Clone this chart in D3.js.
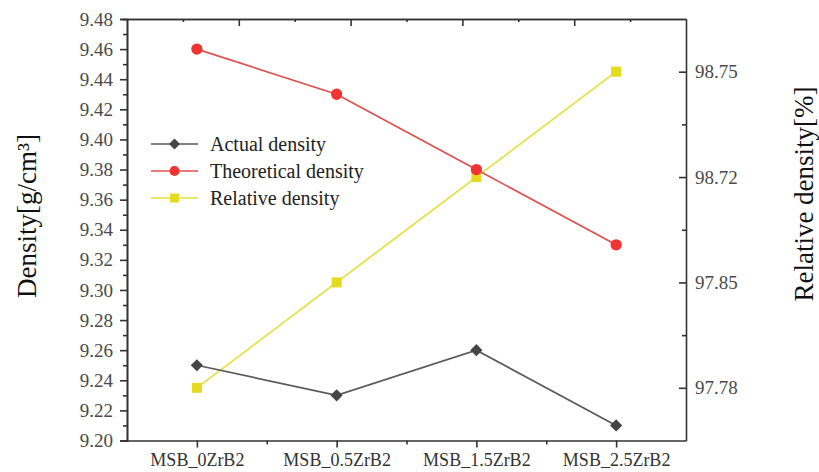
<!DOCTYPE html>
<html>
<head>
<meta charset="utf-8">
<script src="https://cdn.jsdelivr.net/npm/d3@7/dist/d3.min.js"></script>
<style>
  html, body { margin: 0; padding: 0; background: #fff; }
  svg { display: block; }
  text { font-family: "Liberation Serif", "Times New Roman", serif; }
</style>
</head>
<body>
<svg id="chart" width="819" height="472"></svg>
<script>
// Samples along the x axis
const samples = ["MSB_0ZrB2", "MSB_0.5ZrB2", "MSB_1.5ZrB2", "MSB_2.5ZrB2"];
// Densities in g/cm3 (left axis)
const actualDensity = [9.25, 9.23, 9.26, 9.21];
const theoreticalDensity = [9.46, 9.43, 9.38, 9.33];
// Relative density in % (right axis, one labelled level per sample)
const relativeDensity = ["97.78", "97.85", "98.72", "98.75"];
// Left axis tick labels
const leftTicks = [9.20, 9.22, 9.24, 9.26, 9.28, 9.30, 9.32, 9.34, 9.36, 9.38, 9.40, 9.42, 9.44, 9.46, 9.48];
const seriesNames = ["Actual density", "Theoretical density", "Relative density"];

const svg = d3.select("#chart");
const plot = { left: 127, right: 686, top: 19, bottom: 440.5 };
const frameColor = "#333";
const tickText = "#4a4a4a";

const x = d3.scalePoint().domain(samples).range([plot.left, plot.right]).padding(0.5);
const y = d3.scaleLinear().domain([9.20, 9.48]).range([plot.bottom, plot.top]);
const yR = d3.scalePoint().domain(relativeDensity).range([plot.bottom, plot.top]).padding(0.5);
const xTop = d3.scaleLinear().domain([0, 10]).range([plot.left, plot.right]);

function styleAxis(g) {
  g.selectAll("path.domain").attr("stroke", frameColor).attr("stroke-width", 1.6);
  g.selectAll(".tick line").attr("stroke", frameColor).attr("stroke-width", 1.6);
  g.selectAll(".tick text").attr("fill", tickText).style("font-size", "19px")
    .style("font-family", "'Liberation Serif', serif");
}

// Left axis: minor ticks then major ticks
const leftMinor = leftTicks.slice(0, -1).map(v => v + 0.01);
svg.append("g").attr("transform", `translate(${plot.left},0)`)
  .call(d3.axisLeft(y).tickValues(leftMinor).tickSize(4).tickFormat(""))
  .call(styleAxis);
svg.append("g").attr("transform", `translate(${plot.left},0)`)
  .call(d3.axisLeft(y).tickValues(leftTicks).tickSize(7).tickPadding(7).tickFormat(d3.format(".2f")))
  .call(styleAxis);

// Bottom axis
const step = x.step();
const bottomMinor = samples.slice(0, -1).map(s => x(s) + step / 2);
svg.append("g").attr("transform", `translate(0,${plot.bottom})`)
  .call(d3.axisBottom(d3.scaleIdentity()).tickValues(bottomMinor).tickSize(4).tickFormat(""))
  .call(g => g.select("path.domain").remove())
  .call(styleAxis);
svg.append("g").attr("transform", `translate(0,${plot.bottom})`)
  .call(d3.axisBottom(x).tickSize(7).tickPadding(6).tickSizeOuter(0))
  .call(styleAxis)
  .call(g => g.selectAll(".tick text").style("font-size", "18px").attr("fill", "#333"));

// Right axis (ticks pointing inward)
const rStep = yR.step();
const rightMinor = relativeDensity.slice(0, -1).map(v => yR(v) - rStep / 2);
svg.append("g").attr("transform", `translate(${plot.right},0)`)
  .call(d3.axisRight(d3.scaleIdentity()).tickValues(rightMinor).tickSize(-4).tickFormat(""))
  .call(g => g.select("path.domain").remove())
  .call(styleAxis);
svg.append("g").attr("transform", `translate(${plot.right},0)`)
  .call(d3.axisRight(yR).tickSize(-7).tickPadding(9).tickSizeOuter(0))
  .call(styleAxis)
  .call(g => g.selectAll(".tick text").attr("x", 9));

// Top frame with inward ticks
svg.append("g").attr("transform", `translate(0,${plot.top})`)
  .call(d3.axisTop(xTop).tickValues([1, 3, 5, 7, 9]).tickSize(-3).tickFormat("").tickSizeOuter(0))
  .call(styleAxis);
svg.append("g").attr("transform", `translate(0,${plot.top})`)
  .call(d3.axisTop(xTop).tickValues([2, 4, 6, 8]).tickSize(-7).tickFormat("").tickSizeOuter(0))
  .call(styleAxis);

// Series
const series = [
  { name: seriesNames[0], values: actualDensity.map((v, i) => [x(samples[i]), y(v)]),
    line: "#5a5a5a", fill: "#454545", symbol: d3.symbolDiamond2, size: 95 },
  { name: seriesNames[1], values: theoreticalDensity.map((v, i) => [x(samples[i]), y(v)]),
    line: "#e05050", fill: "#f03333", symbol: d3.symbolCircle, size: 100 },
  { name: seriesNames[2], values: relativeDensity.map((v, i) => [x(samples[i]), yR(v)]),
    line: "#e6df3a", fill: "#e4da1e", symbol: d3.symbolSquare, size: 100 }
];

const line = d3.line();
const drawOrder = [2, 1, 0];
drawOrder.forEach(k => {
  const s = series[k];
  svg.append("path").attr("d", line(s.values)).attr("fill", "none")
    .attr("stroke", s.line).attr("stroke-width", 1.7);
});
drawOrder.forEach(k => {
  const s = series[k];
  svg.append("g").selectAll("path").data(s.values).join("path")
    .attr("transform", d => `translate(${d[0]},${d[1]})`)
    .attr("d", d3.symbol(s.symbol, s.size)).attr("fill", s.fill);
});

// Legend
const legend = svg.append("g").attr("transform", "translate(151,144)");
series.forEach((s, i) => {
  const g = legend.append("g").attr("transform", `translate(0,${i * 27})`);
  g.append("line").attr("x1", 0).attr("x2", 47).attr("y1", 0).attr("y2", 0)
    .attr("stroke", s.line).attr("stroke-width", 1.7);
  g.append("path").attr("transform", "translate(23.5,0)")
    .attr("d", d3.symbol(s.symbol, s.size * 0.8)).attr("fill", s.fill);
  g.append("text").attr("x", 59).attr("y", 0).attr("dy", "0.33em")
    .style("font-size", "20px").attr("fill", "#222").text(s.name);
});

// Axis titles
svg.append("text").attr("transform", "translate(36,216) rotate(-90)")
  .attr("text-anchor", "middle").style("font-size", "27px").attr("fill", "#111")
  .text("Density[g/cm³]");
svg.append("text").attr("transform", "translate(813,194) rotate(-90)")
  .attr("text-anchor", "middle").style("font-size", "27px").attr("fill", "#111")
  .text("Relative density[%]");
</script>
</body>
</html>
